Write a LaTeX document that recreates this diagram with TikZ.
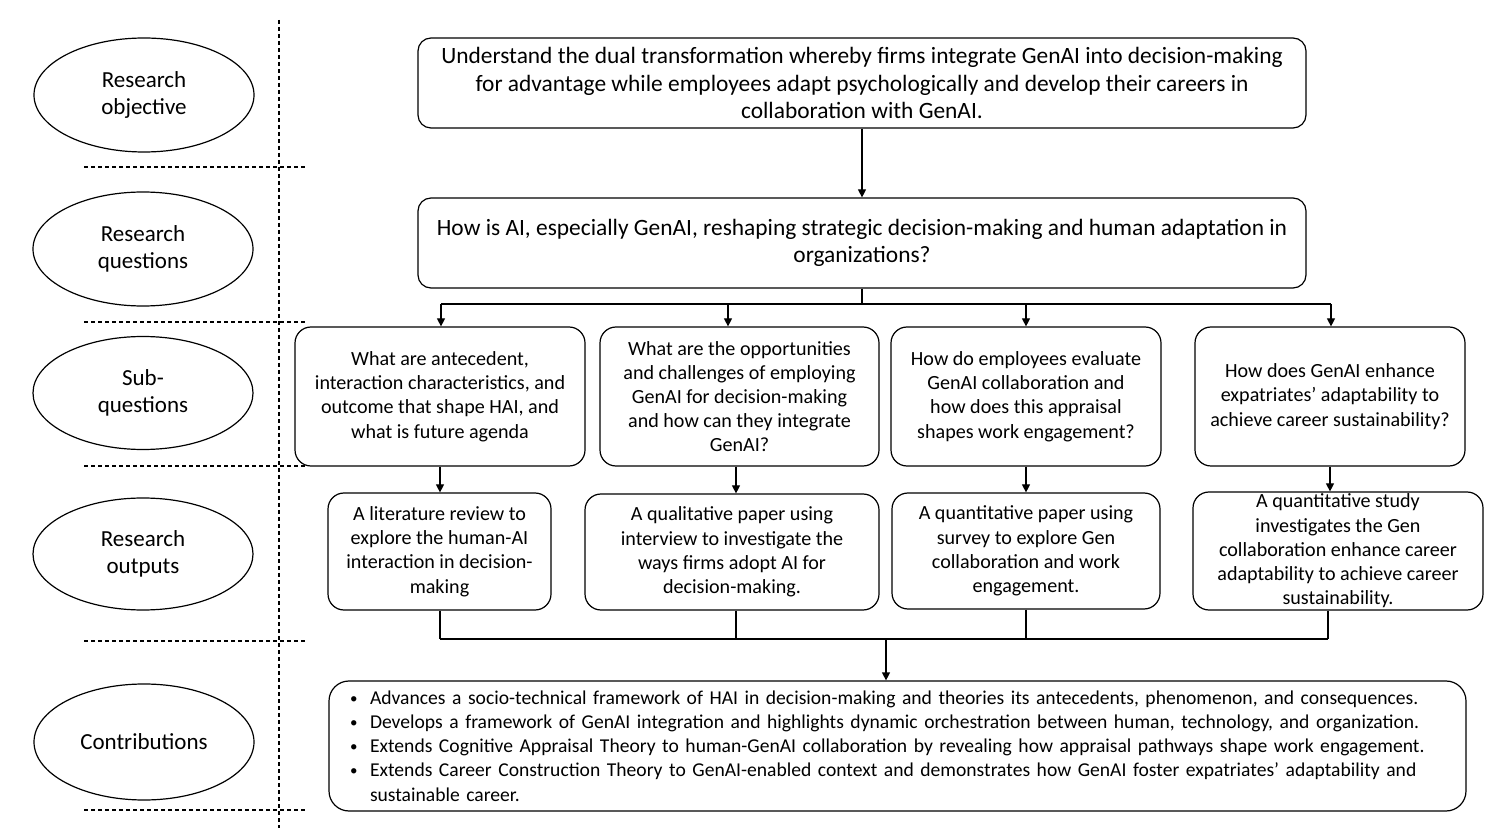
\documentclass[tikz,border=0pt]{standalone}
\usepackage{fontspec}
\setmainfont{Carlito}
\usetikzlibrary{shapes.geometric,arrows.meta,calc}
\newcommand{\cbul}{\makebox[10pt][l]{\raisebox{0.5pt}{\fontsize{7.5}{7.5}\selectfont\textbullet}}}
\begin{document}
\begin{tikzpicture}[x=0.5pt,y=-0.5pt,
  wh/.style 2 args={minimum width=#1*0.5pt, minimum height=#2*0.5pt},
  box/.style={draw, rounded corners=8pt, line width=0.6pt, align=center, inner sep=0pt, font=\fontsize{10.05}{12.1}\selectfont},
  bigbox/.style={box, rounded corners=6.5pt, font=\fontsize{11.7}{13.75}\selectfont},
  ell/.style={draw, ellipse, line width=0.6pt, align=center, inner sep=0pt, font=\fontsize{11.5}{13.75}\selectfont},
  sep/.style={line width=0.6pt, dash pattern=on 2pt off 1.5pt},
  arr/.style={-{Triangle[length=4pt,width=4pt]}, line width=0.6pt},
  ln/.style={line width=0.6pt}]
\useasboundingbox (0,0) rectangle (1500,828);

% separators
\draw[sep] (279,20) -- (279,828);
\foreach \yy in {167,322,466,641,810} \draw[sep] (84,\yy) -- (305,\yy);

% row labels
\node[ell, wh={220}{114}] (e1) at (144,95) {Research\\objective};
\node[ell, wh={220}{114}] (e2) at (143,249) {Research\\questions};
\node[ell, wh={220}{113}] (e3) at (143,393) {Sub-\\questions};
\node[ell, wh={220}{112}] (e4) at (143,554) {Research\\outputs};
\node[ell, wh={220}{116}] (e5) at (144,742) {Contributions};

% objective and research question
\node[bigbox, wh={888}{90}] (b1) at (862,83) {Understand the dual transformation whereby firms integrate GenAI into decision-making\\for advantage while employees adapt psychologically and develop their careers in\\collaboration with GenAI.};
\node[bigbox, wh={888}{90}] (b2) at (862,243) {How is AI, especially GenAI, reshaping strategic decision-making and human adaptation in\\organizations?};

% sub-questions
\node[box, wh={290}{139}] (s1) at (440,396.5) {What are antecedent,\\interaction characteristics, and\\outcome that shape HAI, and\\what is future agenda};
\node[box, wh={279}{139}] (s2) at (739.5,396.5) {What are the opportunities\\and challenges of employing\\GenAI for decision-making\\and how can they integrate\\GenAI?};
\node[box, wh={270}{139}] (s3) at (1026,396.5) {How do employees evaluate\\GenAI collaboration and\\how does this appraisal\\shapes work engagement?};
\node[box, wh={270}{139}] (s4) at (1330,396.5) {How does GenAI enhance\\expatriates’ adaptability to\\achieve career sustainability?};

% outputs
\node[box, wh={223}{117}] (o1) at (439.5,551.5) {A literature review to\\explore the human-AI\\interaction in decision-\\making};
\node[box, wh={294}{116}] (o2) at (732,552) {A qualitative paper using\\interview to investigate the\\ways firms adopt AI for\\decision-making.};
\node[box, wh={268}{116}] (o3) at (1026,551) {A quantitative paper using\\survey to explore Gen\\collaboration and work\\engagement.};
\node[box, wh={290}{118}] (o4) at (1338,551) {A quantitative study\\investigates the Gen\\collaboration enhance career\\adaptability to achieve career\\sustainability.};

% contributions
\node[box, rounded corners=10pt, wh={1137}{130}, align=left, inner xsep=10.5pt, text width=547.5pt, font=\fontsize{9.8}{12.1}\selectfont] (c) at (897.5,746) {%
\cbul Advances a socio-technical framework of HAI in decision-making and theories its antecedents, phenomenon, and consequences.\\
\cbul Develops a framework of GenAI integration and highlights dynamic orchestration between human, technology, and organization.\\
\cbul Extends Cognitive Appraisal Theory to human-GenAI collaboration by revealing how appraisal pathways shape work engagement.\\
\cbul Extends Career Construction Theory to GenAI-enabled context and demonstrates how GenAI foster expatriates’ adaptability and\\
\hspace*{10pt}sustainable career.};

% connectors
\draw[arr] (b1) -- (b2);
\coordinate (j) at (862,304);
\coordinate (t1) at (441,304);
\coordinate (t2) at (728,304);
\coordinate (t3) at (1026,304);
\coordinate (t4) at (1331,304);
\draw[ln] (b2.south) -- (j);
\draw[ln] (t1) -- (t4);
\draw[arr] (t1) -- (t1 |- s1.north);
\draw[arr] (t2) -- (t2 |- s2.north);
\draw[arr] (t3) -- (t3 |- s3.north);
\draw[arr] (t4) -- (t4 |- s4.north);

\coordinate (u2) at ($(s2.south)+(-3.5,0)$);
\draw[arr] (s1.south) -- (s1.south |- o1.north);
\draw[arr] (u2) -- (u2 |- o2.north);
\draw[arr] (s3.south) -- (s3.south |- o3.north);
\draw[arr] (s4.south) -- (s4.south |- o4.north);

\coordinate (m) at (886,639);
\coordinate (m1) at (440,639);
\coordinate (m2) at (736,639);
\coordinate (m3) at (1026,639);
\coordinate (m4) at (1328,639);
\draw[ln] (m1 |- o1.south) -- (m1);
\draw[ln] (m2 |- o2.south) -- (m2);
\draw[ln] (m3 |- o3.south) -- (m3);
\draw[ln] (m4 |- o4.south) -- (m4);
\draw[ln] (m1) -- (m4);
\draw[arr] (m) -- (m |- c.north);
\end{tikzpicture}
\end{document}
